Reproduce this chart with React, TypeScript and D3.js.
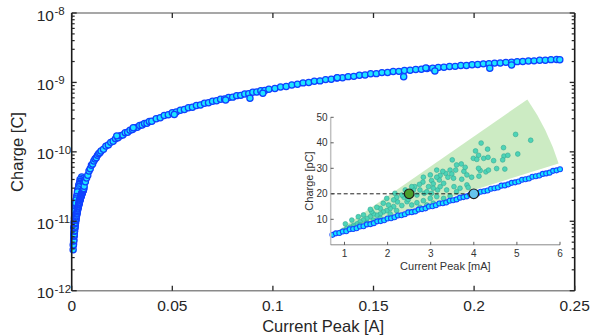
import React from 'react';
import * as d3 from 'd3';

// ---------- data ----------
// main series, current in mA, charge in pC (I > 6 mA)
const mainCurrentMA = [6.2,6.8,7.4,8.0,8.6,9.2,9.8,10.4,11.0,11.6,12.2,12.8,13.4,14.0,14.6,
15.8,17.0,18.2,19.4,20.6,21.8,23.0,24.2,25.4,26.6,27.8,29.0,30.2,31.4,32.6,33.8,35.0,36.2,37.4,38.6,39.8,
42,44,46,48,50,52,54,56,58,60,62,64,66,68,70,72,74,76,78,80,82,84,86,88,90,92,94,96,98,
101,103.8,106.6,109.4,112.2,115,117.8,120.6,123.4,126.2,129,131.8,134.6,137.4,140.2,143,145.8,148.6,151.4,154.2,157,159.8,162.6,165.4,168.2,171,173.8,176.6,179.4,182.2,185,187.8,190.6,193.4,196.2,199,201.8,204.6,207.4,210.2,213,215.8,218.6,221.4,224.2,227,229.8,232.6,235.4,238.2,241,242.6,
165,180.5,207.8,218.6,88.6,95,30.6,22.4,51,76.5,132,176];
const mainChargePC = [32,37,42,46,53,57,64,67,74,79,82,89,94,97,103,
109,121,126,137,142,155,159,171,175,188,192,205,209,223,226,240,243,256,259,274,276,
300,310,333,342,365,374,398,407,431,440,466,474,500,508,536,543,572,579,608,614,645,651,682,688,720,726,758,765,797,
815,858,876,920,940,985,998,1040,1052,1098,1108,1155,1165,1212,1223,1272,1280,1330,1338,1385,1390,1437,1443,1488,1495,1540,1546,1592,1598,1645,1650,1697,1703,1750,1755,1802,1808,1851,1855,1898,1902,1945,1950,1993,1996,2040,2045,2085,2090,2130,2140,2120,
1210,1460,1600,1780,590,697,222,170,345,560,1170,1610];

// lower line (low-current regime), mA / pC
const lineCurrentMA = [0.72,0.80,0.88,0.96,1.04,1.12,1.20,1.28,1.36,1.44,1.52,1.60,1.68,1.76,1.84,1.92,2.00,2.08,2.16,2.24,2.32,2.40,2.48,2.56,2.64,2.72,2.80,2.88,2.96,3.04,3.12,3.20,3.28,3.36,3.44,3.52,3.60,3.68,3.76,3.84,3.92,4.00,4.08,4.16,4.24,4.32,4.40,4.48,4.56,4.64,4.72,4.80,4.88,4.96,5.04,5.12,5.20,5.28,5.36,5.44,5.52,5.60,5.68,5.76,5.84,5.92,6.00];
const lineChargePC = [3.9,4.5,4.6,5.2,5.3,6.1,6.2,6.5,7.2,7.3,8.0,8.1,8.5,9.2,9.3,9.6,10.3,10.4,10.8,11.5,11.6,12.0,12.7,12.8,13.1,13.8,14.0,14.3,15.0,15.1,15.5,16.2,16.3,16.6,17.3,17.5,17.8,18.5,18.7,19.0,19.7,19.9,20.1,20.8,21.0,21.3,22.0,22.2,22.5,23.2,23.3,23.7,24.3,24.5,24.8,25.5,25.7,26.0,26.7,26.9,27.2,27.8,28.0,28.3,29.0,29.2,29.6];

// scattered cloud above the line, mA / pC
const cloudCurrentMA = [4.97,5.32,4.17,4.69,4.32,5.02,4.04,4.11,4.70,4.79,3.99,4.07,4.23,4.33,4.46,4.67,3.50,3.71,3.77,4.15,
4.11,4.28,4.53,4.72,4.12,3.58,3.45,3.35,3.28,3.22,3.40,3.49,3.53,3.20,3.14,3.02,3.06,2.95,2.82,2.75,
2.85,2.74,2.63,2.60,2.52,3.16,3.22,3.37,3.54,3.84,3.95,3.68,3.87,2.99,3.14,2.83,2.68,2.56,2.45,2.33,
2.23,2.14,2.06,1.98,1.90,1.83,1.75,1.67,1.60,1.52,1.44,1.36,1.29,1.21,1.13,1.05,0.98,0.90,1.44,1.63,
1.83,2.02,2.21,2.38,2.48,2.75,2.91,3.06,2.21,2.06,1.83,1.67,1.52,1.36,1.21,3.02,3.30,3.45,3.60,3.22,
3.37,2.33,2.14,1.90,1.75,1.60,2.68,2.91,3.06,3.30,3.72,3.84,4.34,3.80,3.60,3.14,2.99,2.83,2.56,2.41,
2.17,1.98,1.32,1.17,1.02];
const cloudChargePC = [43.3,41.0,39.9,38.1,37.5,35.6,36.8,35.1,34.8,35.1,33.9,33.5,33.9,34.3,33.0,33.3,33.3,31.7,28.8,29.1,
30.0,28.6,29.9,29.7,26.9,29.3,29.3,28.0,28.8,27.2,26.5,27.8,26.1,25.4,26.5,25.2,23.9,22.8,24.6,21.5,
20.2,23.7,22.8,21.5,19.9,21.5,22.8,21.5,22.8,23.5,26.5,22.2,22.5,18.2,18.9,17.3,16.5,15.6,16.9,15.4,
16.8,15.0,14.2,13.4,12.9,12.1,11.6,12.1,11.0,10.3,9.7,9.0,8.2,7.6,6.9,6.3,5.5,4.8,11.7,13.0,
14.3,15.6,18.6,18.6,17.8,14.7,15.6,16.3,13.4,12.1,10.4,9.7,8.7,7.8,6.9,20.2,18.2,19.1,20.8,16.3,
16.9,19.5,17.6,16.3,14.7,13.9,19.5,20.8,22.2,24.1,25.7,27.4,29.3,30.4,31.3,29.3,27.4,26.5,22.8,21.5,
20.2,18.2,11.0,9.7,8.2];

// wedge (shaded region) in inset data units: apex, upper edge end, lower edge end
const wedgeApex = [0.75, 4.4];
const wedgeUpper = [5.24, 57];
const wedgeLower = [5.97, 31.9];

// highlighted operating points (mA, pC)
const markerGreen = [2.5, 20];
const markerBlue = [4.0, 20];

// ticks
const xTicks = [0, 0.05, 0.1, 0.15, 0.2, 0.25];
const xTickLabels = ['0', '0.05', '0.1', '0.15', '0.2', '0.25'];
const yDecades = [-12, -11, -10, -9, -8];
const insetXTicks = [1, 2, 3, 4, 5, 6];
const insetYTicks = [10, 20, 30, 40, 50];

const W = 592;
const H = 335;
const FONT = 'Liberation Sans, Arial, Helvetica, sans-serif';

export default function App() {
  const x = d3.scaleLinear().domain([0, 0.25]).range([71.7, 574.7]);
  const y = d3.scaleLog().domain([1e-12, 1e-8]).range([290.7, 13]);
  const ix = d3.scaleLinear().domain([0.68, 6]).range([330.7, 560]);
  const iy = d3.scaleLinear().domain([0, 50]).range([244.8, 117.3]);

  const [x0, x1] = x.range();
  const [y0, y1] = y.range();

  const minor: number[] = [];
  for (let k = -12; k < -8; k++) for (let m = 2; m <= 9; m++) minor.push(m * Math.pow(10, k));

  const allMain: [number, number][] = [];
  cloudCurrentMA.forEach((v, i) => allMain.push([v / 1000, cloudChargePC[i] * 1e-12]));
  lineCurrentMA.forEach((v, i) => allMain.push([v / 1000, lineChargePC[i] * 1e-12]));
  mainCurrentMA.forEach((v, i) => allMain.push([v / 1000, mainChargePC[i] * 1e-12]));

  // wedge path
  const ax = ix(wedgeApex[0]), ay = iy(wedgeApex[1]);
  const u = [ix(wedgeUpper[0]) - ax, iy(wedgeUpper[1]) - ay];
  const l = [ix(wedgeLower[0]) - ax, iy(wedgeLower[1]) - ay];
  const du = Math.hypot(u[0], u[1]), dl = Math.hypot(l[0], l[1]);
  const r = (du + dl) / 2;
  const ue = [ax + (u[0] / du) * r, ay + (u[1] / du) * r];
  const le = [ax + (l[0] / dl) * r, ay + (l[1] / dl) * r];
  const wedgePath = `M${ax},${ay}L${ue[0]},${ue[1]}A${r},${r} 0 0 1 ${le[0]},${le[1]}Z`;

  const [ix0, ix1] = ix.range();

  return (
    <svg width={W} height={H} style={{ position: 'absolute', left: 0, top: 0, background: '#fff' }} fontFamily={FONT}>
      <rect x={0} y={0} width={W} height={H} fill="#fff" />
      {/* main points */}
      <g>
        {allMain.map((d, i) => (
          <circle key={i} cx={x(d[0])} cy={y(d[1])} r={3.1} fill="#1ee4ff" stroke="#1040ff" strokeWidth={1.25} />
        ))}
      </g>

      {/* main axes box */}
      <line x1={x0} x2={x1} y1={y0} y2={y0} stroke="#8a8a8a" strokeWidth={1.6} />
      <line x1={x0} x2={x1} y1={y1} y2={y1} stroke="#8a8a8a" strokeWidth={1.6} />
      <line x1={x0} x2={x0} y1={y0} y2={y1} stroke="#1a1a1a" strokeWidth={1.6} />
      <line x1={x1} x2={x1} y1={y0} y2={y1} stroke="#1a1a1a" strokeWidth={1.6} />

      {xTicks.map((t, i) => (
        <g key={'xt' + i}>
          <line x1={x(t)} x2={x(t)} y1={y0} y2={y0 - 5} stroke="#262626" strokeWidth={1.3} />
          <line x1={x(t)} x2={x(t)} y1={y1} y2={y1 + 5} stroke="#262626" strokeWidth={1.3} />
          <text x={x(t)} y={y0 + 20} textAnchor="middle" fontSize={15.5} fill="#262626">{xTickLabels[i]}</text>
        </g>
      ))}
      {yDecades.map((k) => {
        const yy = y(Math.pow(10, k));
        return (
          <g key={'yd' + k}>
            <line x1={x0} x2={x0 + 5} y1={yy} y2={yy} stroke="#262626" strokeWidth={1.3} />
            <line x1={x1} x2={x1 - 5} y1={yy} y2={yy} stroke="#262626" strokeWidth={1.3} />
            <text x={54} y={yy + 7.5} textAnchor="end" fontSize={15.5} fill="#262626">10</text>
            <text x={54.5} y={yy + 2} textAnchor="start" fontSize={11.5} fill="#262626">{String(k)}</text>
          </g>
        );
      })}
      {minor.map((v, i) => (
        <g key={'mn' + i}>
          <line x1={x0} x2={x0 + 3} y1={y(v)} y2={y(v)} stroke="#262626" strokeWidth={1.2} />
          <line x1={x1} x2={x1 - 3} y1={y(v)} y2={y(v)} stroke="#262626" strokeWidth={1.2} />
        </g>
      ))}
      <text x={(x0 + x1) / 2} y={332} textAnchor="middle" fontSize={16.5} fill="#262626">Current Peak [A]</text>
      <text transform={`translate(23,152) rotate(-90)`} textAnchor="middle" fontSize={16.5} fill="#262626">Charge [C]</text>

      {/* ---------- inset ---------- */}
      <path d={wedgePath} fill="#ccebc3" />
      {cloudCurrentMA.map((v, i) => (
        <circle key={'c' + i} cx={ix(v)} cy={iy(cloudChargePC[i])} r={2.4} fill="#4dd4b6" stroke="#36a894" strokeWidth={0.6} />
      ))}
      {lineCurrentMA.map((v, i) => (
        <circle key={'l' + i} cx={ix(v)} cy={iy(lineChargePC[i])} r={2.5} fill="#14e4ff" stroke="#1648ff" strokeWidth={1.1} />
      ))}
      <line x1={ix0} x2={ix(markerBlue[0])} y1={iy(markerGreen[1])} y2={iy(markerBlue[1])} stroke="#222" strokeWidth={1} strokeDasharray="4,2.5" />
      <circle cx={ix(markerGreen[0])} cy={iy(markerGreen[1])} r={4.8} fill="#4c9e2c" stroke="#1e1e1e" strokeWidth={1.2} />
      <circle cx={ix(markerBlue[0])} cy={iy(markerBlue[1])} r={4.8} fill="#66c4ee" stroke="#1e1e1e" strokeWidth={1.2} />

      <line x1={ix0} x2={ix0} y1={iy(50)} y2={iy(0)} stroke="#c0c0c0" strokeWidth={1.5} />
      <line x1={ix0} x2={ix1} y1={iy(0)} y2={iy(0)} stroke="#6a6a6a" strokeWidth={0.8} />
      {insetYTicks.map((t) => (
        <g key={'iy' + t}>
          <line x1={ix0} x2={ix0 + 3} y1={iy(t)} y2={iy(t)} stroke="#333" strokeWidth={0.8} />
          <text x={327.5} y={iy(t) + 3.6} textAnchor="end" fontSize={10} fill="#333">{t}</text>
        </g>
      ))}
      {insetXTicks.map((t) => (
        <g key={'ix' + t}>
          <line x1={ix(t)} x2={ix(t)} y1={iy(0)} y2={iy(0) - 3} stroke="#333" strokeWidth={0.8} />
          <text x={ix(t)} y={257} textAnchor="middle" fontSize={10} fill="#333">{t}</text>
        </g>
      ))}
      <text x={(ix0 + ix1) / 2} y={269.5} textAnchor="middle" fontSize={11} fill="#333">Current Peak [mA]</text>
      <text transform={`translate(312.5,181) rotate(-90)`} textAnchor="middle" fontSize={11} fill="#333">Charge [pC]</text>
    </svg>
  );
}
